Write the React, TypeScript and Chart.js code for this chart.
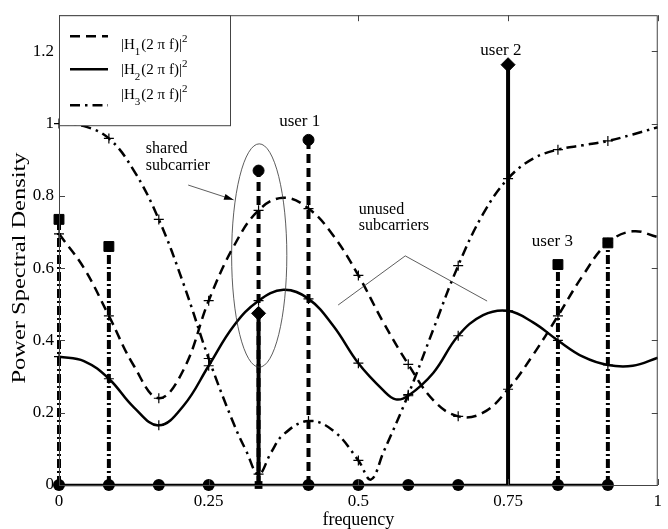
import React, { useEffect, useRef } from 'react';
import { Chart, registerables } from 'chart.js';
Chart.register(...registerables);

const FONT = '"Liberation Serif", "Times New Roman", serif';

// axis ticks
const xTickValues = [0, 0.25, 0.5, 0.75, 1];
const yTickValues = [0, 0.2, 0.4, 0.6, 0.8, 1, 1.2];

// |H1(2 pi f)|^2  (dashed)
const h1X = [0, 0.0417, 0.0833, 0.125, 0.1667, 0.2083, 0.25, 0.2917, 0.3333, 0.375, 0.4167, 0.4583, 0.5, 0.5417, 0.5833, 0.625, 0.6667, 0.7083, 0.75, 0.7917, 0.8333, 0.875, 0.9167, 0.9583, 1];
const h1Y = [0.695, 0.6, 0.468, 0.33, 0.24, 0.32, 0.51, 0.66, 0.76, 0.795, 0.765, 0.69, 0.58, 0.45, 0.334, 0.235, 0.19, 0.2, 0.265, 0.36, 0.468, 0.58, 0.67, 0.702, 0.686];

// |H2(2 pi f)|^2  (solid)
const h2X = [0, 0.0417, 0.0833, 0.125, 0.1667, 0.2083, 0.25, 0.2917, 0.3333, 0.375, 0.4167, 0.4583, 0.5, 0.5417, 0.5625, 0.5833, 0.625, 0.6667, 0.7083, 0.75, 0.7917, 0.8333, 0.875, 0.9167, 0.9583, 1];
const h2Y = [0.355, 0.343, 0.294, 0.215, 0.165, 0.22, 0.33, 0.44, 0.51, 0.54, 0.515, 0.44, 0.337, 0.262, 0.237, 0.247, 0.31, 0.413, 0.47, 0.482, 0.45, 0.4, 0.355, 0.332, 0.33, 0.352];

// |H3(2 pi f)|^2  (dash-dot)
const h3X = [0, 0.0417, 0.0833, 0.125, 0.1667, 0.2083, 0.25, 0.2917, 0.3125, 0.3333, 0.3542, 0.375, 0.4167, 0.4583, 0.5, 0.5208, 0.5417, 0.5833, 0.625, 0.6667, 0.7083, 0.75, 0.7917, 0.8333, 0.875, 0.9167, 0.9583, 1];
const h3Y = [1.0, 0.993, 0.959, 0.87, 0.735, 0.555, 0.35, 0.17, 0.095, 0.03, 0.09, 0.14, 0.177, 0.15, 0.068, 0.015, 0.09, 0.25, 0.43, 0.607, 0.75, 0.848, 0.903, 0.928, 0.94, 0.952, 0.97, 0.99];

// subcarriers (markers at zero)
const subcarrierX = [0, 0.0833, 0.1667, 0.25, 0.3333, 0.4167, 0.5, 0.5833, 0.6667, 0.8333, 0.9167];
const subcarrierMarker = ['circle', 'circle', 'circle', 'circle', 'rect', 'circle', 'circle', 'circle', 'circle', 'circle', 'circle'];
const baseLineX = [0, 0.9167];

// allocated subcarrier stems
const stemX = [0, 0.0833, 0.3333, 0.3333, 0.4167, 0.75, 0.8333, 0.9167];
const stemTop = [0.735, 0.66, 0.87, 0.475, 0.955, 1.163, 0.61, 0.67];
const stemLine = ['dashdot', 'dashdot', 'dash', 'solid', 'dash', 'solid', 'dashdot', 'dashdot'];
const stemMarker = ['rect', 'rect', 'circle', 'rectRot', 'circle', 'rectRot', 'rect', 'rect'];

const legendLabels = ['1', '2', '3'];
const userLabels = ['user 1', 'user 2', 'user 3'];

const DASH = [10, 6];
const DASHDOT = [10, 5, 2.5, 5];
const STEM_DASH = [9, 5];
const STEM_DASHDOT = [9, 3, 2, 3];

function zip(xs: number[], ys: number[]) {
  return xs.map((x, i) => ({ x, y: ys[i] }));
}

const crossRadius = (ctx: any) => {
  const r = ctx.raw;
  if (!r || r.x > 0.99) return 0;
  const v = r.x * 12;
  return Math.abs(v - Math.round(v)) < 0.01 ? 5 : 0;
};

const annotationPlugin = {
  id: 'annot',
  afterDatasetsDraw(chart: any) {
    const { ctx, chartArea: ca, scales } = chart;
    const xs = scales.x, ys = scales.y;
    const px = (v: number) => xs.getPixelForValue(v);
    const py = (v: number) => ys.getPixelForValue(v);
    ctx.save();

    // ellipse around shared subcarrier
    ctx.strokeStyle = '#333';
    ctx.lineWidth = 0.8;
    ctx.beginPath();
    const cx = px(0.3344), cy = py(0.635);
    const rx = px(0.3344 + 0.0461) - cx, ry = cy - py(0.635 + 0.309);
    ctx.ellipse(cx, cy, rx, ry, 0, 0, Math.PI * 2);
    ctx.stroke();

    // arrow
    const ax0 = px(0.2158), ay0 = py(0.83), ax1 = px(0.2916), ay1 = py(0.789);
    ctx.beginPath();
    ctx.moveTo(ax0, ay0);
    ctx.lineTo(ax1, ay1);
    ctx.stroke();
    const ang = Math.atan2(ay1 - ay0, ax1 - ax0);
    ctx.fillStyle = '#000';
    ctx.beginPath();
    ctx.moveTo(ax1, ay1);
    ctx.lineTo(ax1 - 10 * Math.cos(ang - 0.3), ay1 - 10 * Math.sin(ang - 0.3));
    ctx.lineTo(ax1 - 10 * Math.cos(ang + 0.3), ay1 - 10 * Math.sin(ang + 0.3));
    ctx.closePath();
    ctx.fill();

    // caret lines for unused subcarriers
    ctx.beginPath();
    ctx.moveTo(px(0.4662), py(0.498));
    ctx.lineTo(px(0.5783), py(0.634));
    ctx.lineTo(px(0.715), py(0.509));
    ctx.stroke();

    // texts
    ctx.fillStyle = '#000';
    ctx.textBaseline = 'middle';
    ctx.font = `16px ${FONT}`;
    ctx.textAlign = 'left';
    ctx.fillText('shared', px(0.145), py(0.931));
    ctx.fillText('subcarrier', px(0.145), py(0.884));
    ctx.fillText('unused', px(0.5008), py(0.762));
    ctx.fillText('subcarriers', px(0.5008), py(0.716));
    ctx.font = `17px ${FONT}`;
    ctx.textAlign = 'center';
    ctx.fillText(userLabels[0], px(0.402), py(1.007));
    ctx.fillText(userLabels[1], px(0.738), py(1.203));
    ctx.fillText(userLabels[2], px(0.824), py(0.675));

    // box
    ctx.strokeStyle = '#444';
    ctx.lineWidth = 1;
    ctx.strokeRect(ca.left + 0.5, ca.top + 0.5, ca.right - ca.left - 1, ca.bottom - ca.top);
    // inward ticks
    ctx.beginPath();
    xTickValues.forEach((v) => {
      const x = Math.round(px(v)) + 0.5;
      ctx.moveTo(x, ca.bottom);
      ctx.lineTo(x, ca.bottom - 6);
      ctx.moveTo(x, ca.top);
      ctx.lineTo(x, ca.top + 6);
    });
    yTickValues.forEach((v) => {
      const y = Math.round(py(v)) + 0.5;
      ctx.moveTo(ca.left, y);
      ctx.lineTo(ca.left + 6, y);
      ctx.moveTo(ca.right, y);
      ctx.lineTo(ca.right - 6, y);
    });
    ctx.stroke();

    // legend
    const lx = ca.left + 0.5, ly = ca.top + 0.5, lw = 171, lh = 110;
    ctx.fillStyle = '#fff';
    ctx.fillRect(lx, ly, lw, lh);
    ctx.strokeStyle = '#444';
    ctx.strokeRect(lx, ly, lw, lh);
    const lineY = [ca.top + 21, ca.top + 54, ca.top + 90];
    const textY = [ca.top + 30, ca.top + 55, ca.top + 80];
    const dashes = [DASH, [], DASHDOT];
    ctx.strokeStyle = '#000';
    ctx.lineWidth = 2.5;
    for (let i = 0; i < 3; i++) {
      ctx.setLineDash(dashes[i]);
      ctx.beginPath();
      ctx.moveTo(ca.left + 11, lineY[i]);
      ctx.lineTo(ca.left + 49, lineY[i]);
      ctx.stroke();
    }
    ctx.setLineDash([]);
    ctx.fillStyle = '#000';
    ctx.textAlign = 'left';
    ctx.textBaseline = 'middle';
    for (let i = 0; i < 3; i++) {
      let x = ca.left + 62;
      const y = textY[i];
      ctx.font = `15px ${FONT}`;
      ctx.fillText('|H', x, y);
      x += ctx.measureText('|H').width;
      ctx.font = `11px ${FONT}`;
      ctx.fillText(legendLabels[i], x, y + 7);
      x += ctx.measureText(legendLabels[i]).width + 1;
      ctx.font = `15px ${FONT}`;
      const mid = '(2 \u03c0 f)|';
      ctx.fillText(mid, x, y);
      x += ctx.measureText(mid).width;
      ctx.font = `11px ${FONT}`;
      ctx.fillText('2', x, y - 6);
    }

    // axis titles
    ctx.font = `18px ${FONT}`;
    ctx.textAlign = 'center';
    ctx.textBaseline = 'middle';
    ctx.fillText('frequency', (ca.left + ca.right) / 2, 520);
    ctx.translate(20, 268);
    ctx.rotate(-Math.PI / 2);
    ctx.scale(1.36, 1);
    ctx.fillText('Power Spectral Density', 0, 0);
    ctx.restore();
  },
};

export default function App() {
  const ref = useRef<HTMLCanvasElement | null>(null);
  useEffect(() => {
    if (!ref.current) return;
    const datasets: any[] = [];

    // zero markers
    datasets.push({
      type: 'scatter',
      data: subcarrierX.map((x) => ({ x, y: 0 })),
      showLine: false,
      clip: false,
      pointStyle: subcarrierMarker,
      pointRadius: subcarrierMarker.map((m) => (m === 'rect' ? 5.5 : 6)),
      pointBackgroundColor: '#000',
      pointBorderColor: '#000',
      borderWidth: 0,
    });

    // stems
    stemX.forEach((x, i) => {
      const style = stemLine[i];
      const marker = stemMarker[i];
      datasets.push({
        type: 'line',
        data: [{ x, y: 0 }, { x, y: stemTop[i] }],
        clip: false,
        borderColor: '#000',
        borderWidth: 4,
        borderDash: style === 'dash' ? STEM_DASH : style === 'dashdot' ? STEM_DASHDOT : [],
        borderCapStyle: 'butt',
        pointStyle: marker,
        pointRadius: [0, marker === 'rect' ? 7 : marker === 'rectRot' ? 7 : 5.5],
        pointBackgroundColor: '#000',
        pointBorderColor: '#000',
        pointBorderWidth: 1,
        order: style === 'solid' ? 0 : 1,
      });
    });

    // base line
    datasets.push({
      type: 'line',
      data: baseLineX.map((x) => ({ x, y: 0 })),
      clip: false,
      borderColor: '#000',
      borderWidth: 2.5,
      pointRadius: 0,
      order: 2,
    });

    const curve = (xs: number[], ys: number[], dash: number[]) => ({
      type: 'line',
      data: zip(xs, ys),
      clip: false,
      borderColor: '#000',
      borderWidth: 2.5,
      borderDash: dash,
      tension: 0.4,
      pointStyle: 'cross',
      pointRadius: crossRadius,
      pointBorderColor: '#000',
      pointBorderWidth: 1.2,
      order: 3,
    });
    datasets.push(curve(h2X, h2Y, []));
    datasets.push(curve(h1X, h1Y, DASH));
    datasets.push(curve(h3X, h3Y, DASHDOT));

    const chart = new Chart(ref.current, {
      type: 'line',
      data: { datasets },
      options: {
        responsive: false,
        animation: false,
        events: [],
        layout: { padding: { left: 0, right: 2, top: 8, bottom: 0 } },
        plugins: { legend: { display: false }, tooltip: { enabled: false } },
        scales: {
          x: {
            type: 'linear',
            min: 0,
            max: 1,
            afterBuildTicks: (s: any) => { s.ticks = xTickValues.map((v) => ({ value: v })); },
            afterFit: (s: any) => { s.height = 44; },
            grid: { display: false, drawTicks: false },
            border: { display: false },
            ticks: {
              padding: 6,
              color: '#000',
              font: { family: FONT, size: 17 },
              maxRotation: 0,
              callback: (v: any) => String(+Number(v).toFixed(2)),
            },
          },
          y: {
            type: 'linear',
            min: 0,
            max: 1.3,
            afterBuildTicks: (s: any) => { s.ticks = yTickValues.map((v) => ({ value: v })); },
            afterFit: (s: any) => { s.width = 59; },
            grid: { display: false, drawTicks: false },
            border: { display: false },
            ticks: {
              padding: 5,
              color: '#000',
              font: { family: FONT, size: 17 },
              callback: (v: any) => String(+Number(v).toFixed(1)),
            },
          },
        },
      },
      plugins: [annotationPlugin],
    } as any);
    return () => chart.destroy();
  }, []);

  return (
    <div style={{ position: 'fixed', left: 0, top: 0, width: 668, height: 529, background: '#fff' }}>
      <canvas ref={ref} width={668} height={529} style={{ display: 'block' }} />
    </div>
  );
}
